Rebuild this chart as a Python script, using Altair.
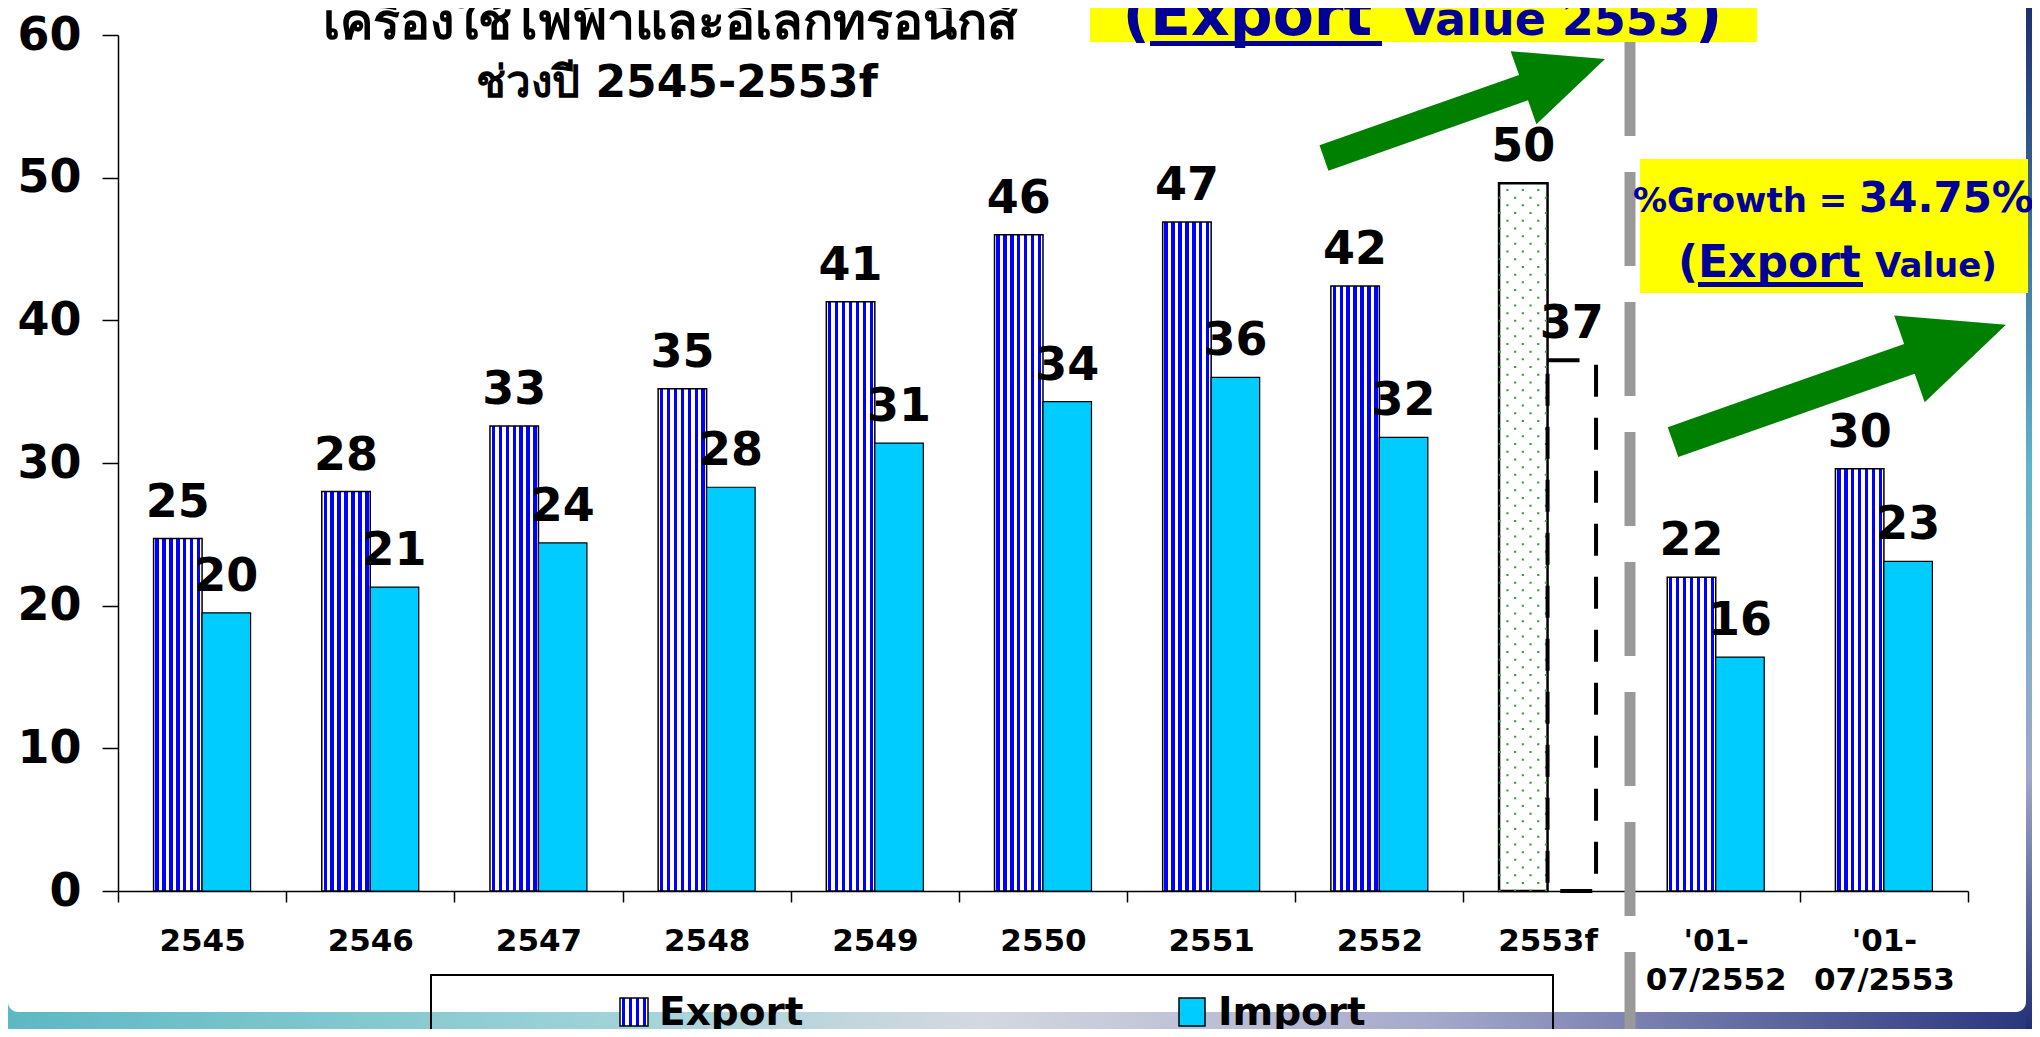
import altair as alt
import pandas as pd

# ---------------- data ----------------
categories = ["2545", "2546", "2547", "2548", "2549", "2550", "2551", "2552",
              "2553f", "'01-07/2552", "'01-07/2553"]
export_values = [24.7, 28.0, 32.6, 35.2, 41.3, 46.0, 46.9, 42.4, 49.6, 22.0, 29.6]
import_values = [19.5, 21.3, 24.4, 28.3, 31.4, 34.3, 36.0, 31.8, 37.2, 16.4, 23.1]
export_labels = ["25", "28", "33", "35", "41", "46", "47", "42", "50", "22", "30"]
import_labels = ["20", "21", "24", "28", "31", "34", "36", "32", "37", "16", "23"]
series_names = ["Export", "Import"]
forecast_category = "2553f"

title_line1 = "เครื่องใช้ไฟฟ้าและอิเล็กทรอนิกส์"
title_line2 = "ช่วงปี 2545-2553f"

rows = []
for c, ev, iv, el, il in zip(categories, export_values, import_values, export_labels, import_labels):
    rows.append({"category": c, "series": "Export", "value": ev, "label": el})
    rows.append({"category": c, "series": "Import", "value": iv, "label": il})
df = pd.DataFrame(rows)
dummy = pd.DataFrame({"k": [0]})

W, H = 1850, 856
FONT = "DejaVu Sans"
NAVY = "#000099"


def stripe_gradient(n, blue_frac):
    stops = [alt.GradientStop(offset=0, color="white")]
    step = 1.0 / n
    for i in range(n):
        c = (i + 0.5) * step
        a = c - blue_frac / 2
        b = c + blue_frac / 2
        stops += [
            alt.GradientStop(offset=a, color="white"),
            alt.GradientStop(offset=a, color="#0000FF"),
            alt.GradientStop(offset=b, color="#0000FF"),
            alt.GradientStop(offset=b, color="white"),
        ]
    stops.append(alt.GradientStop(offset=1, color="white"))
    return alt.Gradient(gradient="linear", stops=stops, x1=0, x2=1, y1=0, y2=0)


bar_stripes = stripe_gradient(7, 0.07)
legend_stripes = stripe_gradient(4, 0.12)

x_enc = alt.X(
    "category:N",
    sort=categories,
    scale=alt.Scale(domain=categories, paddingInner=0, paddingOuter=0),
    title=None,
    axis=alt.Axis(
        tickBand="extent", domainColor="black", domainWidth=1.5,
        tickColor="black", tickSize=11, tickWidth=1.5,
        labelFont=FONT, labelFontSize=31, labelFontWeight="bold", labelColor="black",
        labelPadding=24, labelAngle=0, labelBaseline="top", labelLineHeight=39,
        labelOverlap=False, grid=False,
        labelExpr="indexof(datum.label, '/') > 0 ? [substring(datum.label, 0, 4), substring(datum.label, 4)] : datum.label",
    ),
)
xo_enc = alt.XOffset(
    "series:N",
    scale=alt.Scale(domain=series_names, paddingInner=0, paddingOuter=0.734),
)
y_enc = alt.Y(
    "value:Q",
    scale=alt.Scale(domain=[0, 60], nice=False, zero=True),
    title=None,
    axis=alt.Axis(
        values=[0, 10, 20, 30, 40, 50, 60], domainColor="black", domainWidth=1.5,
        tickColor="black", tickSize=16, tickWidth=1.5,
        labelFont=FONT, labelFontSize=46, labelFontWeight="bold", labelColor="black",
        labelPadding=21, grid=False,
    ),
)

base = alt.Chart(df)
ann = alt.Chart(dummy)

is_fc = f"datum.category == '{forecast_category}'"
not_fc = f"datum.category != '{forecast_category}'"

# ---------- background decoration ----------
bottom_strip = ann.mark_rect(
    fill=alt.Gradient(gradient="linear", x1=0, x2=1, y1=0, y2=0, stops=[
        alt.GradientStop(offset=0, color="#5DB8C3"),
        alt.GradientStop(offset=0.3, color="#9FD3D8"),
        alt.GradientStop(offset=0.48, color="#D4D8E0"),
        alt.GradientStop(offset=0.7, color="#A6AACB"),
        alt.GradientStop(offset=1, color="#28367E"),
    ])
).encode(x=alt.value(-110), x2=alt.value(1914), y=alt.value(958), y2=alt.value(1000))
right_strip = ann.mark_rect(
    fill=alt.Gradient(gradient="linear", x1=0, x2=0, y1=0, y2=1, stops=[
        alt.GradientStop(offset=0, color="#1E2C70"),
        alt.GradientStop(offset=0.45, color="#5EB4C8"),
        alt.GradientStop(offset=0.75, color="#9FA8C8"),
        alt.GradientStop(offset=1, color="#1E2C70"),
    ])
).encode(x=alt.value(1908), x2=alt.value(1914), y=alt.value(-35), y2=alt.value(1000))
panel = ann.mark_rect(fill="white", cornerRadiusBottomLeft=18, cornerRadiusBottomRight=18).encode(
    x=alt.value(-110), x2=alt.value(1908), y=alt.value(957), y2=alt.value(977)
)

# ---------- bars ----------
export_bars = base.transform_filter(f"datum.series == 'Export' && {not_fc}").mark_bar(
    fill=bar_stripes, stroke="black", strokeWidth=1.5
).encode(x=x_enc, xOffset=xo_enc, y=y_enc)
import_bars = base.transform_filter(f"datum.series == 'Import' && {not_fc}").mark_bar(
    fill="#00CCFF", stroke="black", strokeWidth=1.2
).encode(x=x_enc, xOffset=xo_enc, y=y_enc)
fc_export = base.transform_filter(f"datum.series == 'Export' && {is_fc}").mark_bar(
    fill="white", stroke="black", strokeWidth=2.5
).encode(x=x_enc, xOffset=xo_enc, y=y_enc)
fc_import = base.transform_filter(f"datum.series == 'Import' && {is_fc}").mark_bar(
    fill="transparent", stroke="black", strokeWidth=4, strokeDash=[32, 21]
).encode(x=x_enc, xOffset=xo_enc, y=y_enc)

dot_layers = []
dot_offsets = [-47.8, -40.1, -32.4, -24.7, -17.0, -9.3, -1.6]
for k, off in enumerate(dot_offsets):
    dash_off = 2.1 if k % 2 == 0 else 9.8
    dot_layers.append(
        base.transform_filter(f"datum.series == 'Export' && {is_fc}").mark_rule(
            xOffset=off, color="#3C9C3C", strokeWidth=2.2, strokeDash=[2, 13.4],
            strokeDashOffset=dash_off,
        ).encode(x=x_enc, y=y_enc, y2=alt.datum(0))
    )

labels = base.mark_text(
    font=FONT, fontSize=46, fontWeight="bold", color="black",
    baseline="alphabetic", align="center", dy=-22,
).encode(x=x_enc, xOffset=xo_enc, y=y_enc, text="label:N")

# ---------- separator ----------
separator = ann.mark_rule(color="#999999", strokeWidth=11, strokeDash=[94, 36]).encode(
    x=alt.value(1512), y=alt.value(7), y2=alt.value(1002)
)


def txt(s, x, y, size, align="left", color=NAVY):
    return ann.mark_text(text=s, font=FONT, fontSize=size, fontWeight="bold", color=color,
                         align=align, baseline="alphabetic").encode(
        x=alt.value(x), y=alt.value(y))


# ---------- title ----------
t1 = txt(title_line1, 552, 4, 50, align="center", color="black")
t2 = txt(title_line2, 559, 62, 44, align="center", color="black")

# ---------- yellow box 1 ----------
box1 = ann.mark_rect(fill="#FFFF00").encode(
    x=alt.value(972), x2=alt.value(1639), y=alt.value(-35), y2=alt.value(7))
b1_open = txt("(", 1032, 0, 60, align="right")
b1_export = txt("Export", 1032, 0, 60)
b1_value = txt("Value 2553", 1284, 0, 46)
b1_close = txt(")", 1577, 0, 60)
b1_ul = ann.mark_rule(color=NAVY, strokeWidth=5).encode(
    x=alt.value(1032), x2=alt.value(1264), y=alt.value(8.5))

# ---------- yellow box 2 ----------
box2 = ann.mark_rect(fill="#FFFF00").encode(
    x=alt.value(1522), x2=alt.value(1910), y=alt.value(124), y2=alt.value(258))
b2_growth = txt("%Growth =", 1515, 177, 34)
b2_pct = txt("34.75%", 1741, 177, 42)
b2_open = txt("(", 1580, 242, 44, align="right")
b2_export = txt("Export", 1580, 242, 44)
b2_value = txt("Value)", 1757, 242, 34)
b2_ul = ann.mark_rule(color=NAVY, strokeWidth=5).encode(
    x=alt.value(1580), x2=alt.value(1745), y=alt.value(249.5))

# ---------- arrows ----------
arrow_path = "M -1 -0.09 L 0.42 -0.09 L 0.42 -0.26 L 1 0 L 0.42 0.26 L 0.42 0.09 L -1 0.09 Z"
arrow1 = ann.mark_point(shape=arrow_path, filled=True, color="#008000", opacity=1,
                        size=298 * 298, angle=340.6, strokeWidth=0).encode(
    x=alt.value(1346.5), y=alt.value(73.5))
arrow2 = ann.mark_point(shape=arrow_path, filled=True, color="#008000", opacity=1,
                        size=353 * 353, angle=340.6, strokeWidth=0).encode(
    x=alt.value(1721.5), y=alt.value(348.5))

# ---------- legend ----------
leg_box = ann.mark_rect(fill="transparent", stroke="black", strokeWidth=2).encode(
    x=alt.value(313), x2=alt.value(1435), y=alt.value(940), y2=alt.value(1010))
leg_sw1 = ann.mark_rect(fill=legend_stripes, stroke="black", strokeWidth=1.5).encode(
    x=alt.value(502), x2=alt.value(530), y=alt.value(963), y2=alt.value(991))
leg_sw2 = ann.mark_rect(fill="#00CCFF", stroke="black", strokeWidth=1.5).encode(
    x=alt.value(1061), x2=alt.value(1087), y=alt.value(963), y2=alt.value(991))
leg_t1 = txt("Export", 541, 990, 39, color="black")
leg_t2 = txt("Import", 1100, 990, 39, color="black")

chart = alt.layer(
    bottom_strip, right_strip, panel,
    export_bars, import_bars, fc_export, *dot_layers, fc_import,
    labels, separator,
    t1, t2,
    box1, b1_open, b1_export, b1_value, b1_close, b1_ul,
    box2, b2_growth, b2_pct, b2_open, b2_export, b2_value, b2_ul,
    arrow1, arrow2,
    leg_box, leg_sw1, leg_sw2, leg_t1, leg_t2,
).properties(
    width=W, height=H, autosize="none",
    padding={"left": 110, "top": 27, "right": 64, "bottom": 138},
    background="white",
).configure_view(stroke="transparent")

chart.save("out.html", embed_options={"renderer": "svg", "actions": False})
